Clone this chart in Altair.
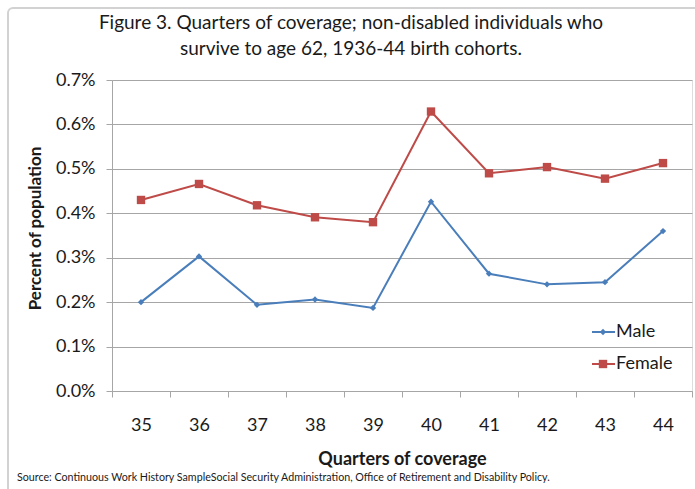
import altair as alt
import pandas as pd

quarters = ["35", "36", "37", "38", "39", "40", "41", "42", "43", "44"]
male = [0.200, 0.303, 0.194, 0.206, 0.187, 0.426, 0.264, 0.240, 0.245, 0.360]
female = [0.430, 0.466, 0.418, 0.391, 0.380, 0.629, 0.490, 0.504, 0.478, 0.513]
series = ["Male", "Female"]
colors = ["#4a7ebb", "#be4b48"]
shapes = ["diamond", "square"]
marker_sizes = [40, 70]
y_ticks = [0.0, 0.1, 0.2, 0.3, 0.4, 0.5, 0.6, 0.7]

title_lines = ["Figure 3. Quarters of coverage; non-disabled individuals who",
               "survive to age 62, 1936-44 birth cohorts."]
source_text = ("Source: Continuous Work History SampleSocial Security Administration, "
               "Office of Retirement and Disability Policy.")

rows = []
for q, m, f in zip(quarters, male, female):
    rows.append({"quarter": q, "series": "Male", "value": m})
    rows.append({"quarter": q, "series": "Female", "value": f})
df = pd.DataFrame(rows)

FONT = "Lato"
GRID = "#a6a6a6"
TXT = "#1a1a1a"

color_scale = alt.Scale(domain=series, range=colors)
shape_scale = alt.Scale(domain=series, range=shapes)
size_scale = alt.Scale(domain=series, range=marker_sizes)

x_enc = alt.X("quarter:O", sort=quarters,
              scale=alt.Scale(paddingInner=0, paddingOuter=0),
              axis=alt.Axis(title="Quarters of coverage", labelAngle=0, tickBand="extent",
                            tickSize=6, tickColor=GRID, domainColor=GRID,
                            labelFontSize=18, labelColor=TXT, labelPadding=19, labelFont=FONT,
                            titleFontSize=18, titleFontWeight="bold", titleColor=TXT,
                            titleFont=FONT, titlePadding=16, grid=False))
y_enc = alt.Y("value:Q", scale=alt.Scale(domain=[0, 0.7], nice=False, zero=True),
              axis=alt.Axis(title="Percent of population", values=y_ticks,
                            labelExpr="format(datum.value, '.1f') + '%'",
                            tickSize=6, tickColor=GRID, domainColor=GRID,
                            gridColor=GRID, gridWidth=1, grid=True,
                            labelFontSize=18, labelColor=TXT, labelPadding=11, labelFont=FONT,
                            titleFontSize=17, titleFontWeight="bold", titleColor=TXT,
                            titleFont=FONT, titlePadding=11, titleY=148))

base = alt.Chart(df)
lines = base.mark_line(strokeWidth=2).encode(
    x=x_enc, y=y_enc,
    color=alt.Color("series:N", scale=color_scale, legend=None),
    detail="series:N")
points = base.mark_point(filled=True, opacity=1).encode(
    x=alt.X("quarter:O", sort=quarters), y="value:Q",
    color=alt.Color("series:N", scale=color_scale, legend=None),
    shape=alt.Shape("series:N", scale=shape_scale, legend=None),
    size=alt.Size("series:N", scale=size_scale, legend=None))

one = pd.DataFrame({"a": [0]})

legend_layers = []
for i, (s, c, sh, sz) in enumerate(zip(series, colors, shapes, marker_sizes)):
    yy = alt.value(252 + 32 * i)
    legend_layers.append(alt.Chart(one).mark_rule(strokeWidth=2, color=c).encode(
        x=alt.value(480), x2=alt.value(503), y=yy))
    legend_layers.append(alt.Chart(one).mark_point(filled=True, opacity=1, color=c,
                                                   shape=sh, size=sz).encode(
        x=alt.value(491), y=yy))
    legend_layers.append(alt.Chart(one).mark_text(align="left", baseline="middle",
                                                  fontSize=18, font=FONT, color=TXT).encode(
        x=alt.value(504), y=yy, text=alt.value(s)))

title_layers = []
for i, line in enumerate(title_lines):
    title_layers.append(alt.Chart(one).mark_text(align="center", baseline="middle",
                                                 fontSize=19, font=FONT, color=TXT).encode(
        x=alt.value(239), y=alt.value(-57 + 26 * i), text=alt.value(line)))

frame = alt.Chart(one).mark_rect(fill=None, stroke="#d2d2d2", strokeWidth=2,
                                 cornerRadius=5).encode(
    x=alt.value(-104), x2=alt.value(620), y=alt.value(-72), y2=alt.value(430))
src = alt.Chart(one).mark_text(align="left", baseline="middle", fontSize=10.7,
                               font=FONT, color=TXT).encode(
    x=alt.value(-95), y=alt.value(398), text=alt.value(source_text))

chart = alt.layer(frame, lines, points, *legend_layers, *title_layers, src).properties(
    width=580, height=311,
    autosize=alt.AutoSizeParams(type="none"),
    padding={"left": 112, "top": 80, "right": 3, "bottom": 98},
).configure_view(stroke=None).configure(background="white")

chart.save("out.html", embed_options={"renderer": "svg", "actions": False})
